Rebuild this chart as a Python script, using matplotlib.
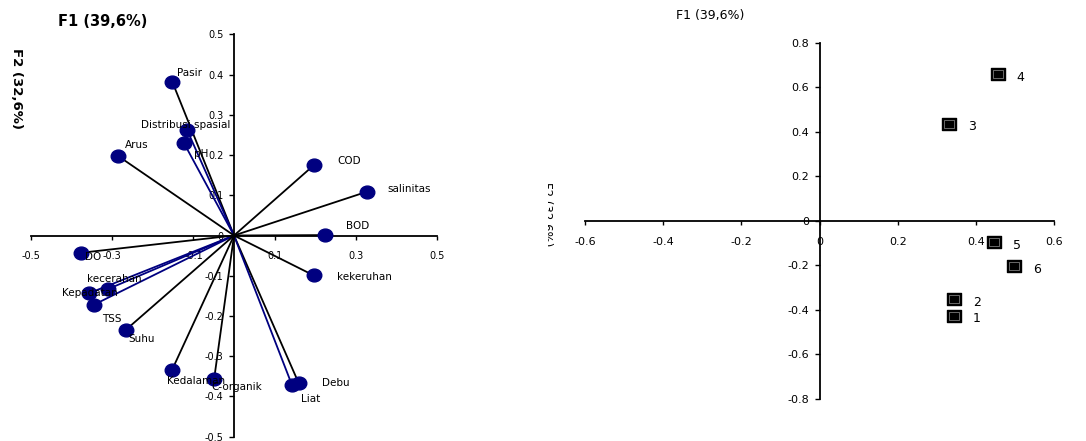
import matplotlib
matplotlib.use("Agg")
import matplotlib.pyplot as plt
from matplotlib.path import Path
from matplotlib.transforms import Affine2D, Bbox
from matplotlib.ticker import FixedLocator, FuncFormatter

# --- left panel: loadings of the variables on F1 / F2 ---
variables = [
    "Pasir", "Distribusi spasial", "pH", "Arus", "COD", "salinitas", "BOD",
    "DO", "kecerahan", "Kepadatan", "TSS", "Suhu", "Kedalaman",
    "C-organik", "Debu", "Liat", "kekeruhan",
]
load_f1 = [-0.152, -0.115, -0.124, -0.286, 0.198, 0.328, 0.223,
           -0.377, -0.310, -0.356, -0.345, -0.267, -0.153,
           -0.049, 0.159, 0.143, 0.196]
load_f2 = [0.382, 0.261, 0.231, 0.198, 0.176, 0.109, 0.001,
           -0.043, -0.133, -0.143, -0.172, -0.235, -0.335,
           -0.357, -0.366, -0.372, -0.099]

# --- right panel: station scores ---
stations = ["1", "2", "3", "4", "5", "6"]
score_f1 = [0.343, 0.343, 0.332, 0.455, 0.445, 0.498]
score_f2 = [-0.427, -0.352, 0.435, 0.658, -0.097, -0.203]

left_xticks = [-0.5, -0.3, -0.1, 0.1, 0.3, 0.5]
left_yticks = [-0.5, -0.4, -0.3, -0.2, -0.1, 0.0, 0.1, 0.2, 0.3, 0.4, 0.5]
right_xticks = [-0.6, -0.4, -0.2, 0.0, 0.2, 0.4, 0.6]
right_yticks = [-0.8, -0.6, -0.4, -0.2, 0.0, 0.2, 0.4, 0.6, 0.8]

# vectors drawn in navy instead of black
blue_vars = {"Distribusi spasial", "pH", "kecerahan", "Kepadatan", "TSS", "Liat"}

# label offsets from the marker, in pixels (dx right, dy up)
label_offsets = {
    "Pasir": (5, 9), "Distribusi spasial": (-46, 5), "pH": (10, -11),
    "Arus": (7, 11), "COD": (23, 4), "salinitas": (20, 3), "BOD": (21, 9),
    "DO": (4, -4), "kecerahan": (-21, 10), "Kepadatan": (-27, 0),
    "TSS": (8, -14), "Suhu": (3, -9), "Kedalaman": (-5, -11),
    "C-organik": (-3, -8), "Debu": (23, 0), "Liat": (9, -14),
    "kekeruhan": (23, -2),
}

NAVY = "#000080"


def tick_fmt(v, _):
    return "0" if abs(v) < 1e-9 else f"{v:.1f}"


def cross_axes(ax, xticks, yticks, size):
    for side in ("top", "right"):
        ax.spines[side].set_visible(False)
    for side in ("left", "bottom"):
        ax.spines[side].set_position(("data", 0))
        ax.spines[side].set_linewidth(1.3)
    ax.xaxis.set_major_locator(FixedLocator(xticks))
    ax.yaxis.set_major_locator(FixedLocator(yticks))
    ax.xaxis.set_major_formatter(FuncFormatter(tick_fmt))
    ax.yaxis.set_major_formatter(FuncFormatter(tick_fmt))
    ax.tick_params(axis="x", direction="out", length=3, width=1, pad=8.5, labelsize=size)
    ax.tick_params(axis="y", direction="out", length=3.5, width=1, pad=4, labelsize=size)
    ax.patch.set_visible(False)


fig = plt.figure(figsize=(10.86, 4.41), dpi=100)

# left: loadings circle
ax1 = fig.add_axes([31 / 1086, 1 - 436.7 / 441, 406 / 1086, 402.4 / 441])
ax1.set_xlim(-0.5, 0.5)
ax1.set_ylim(-0.5, 0.5)
cross_axes(ax1, left_xticks, left_yticks, 7)

ellipse = Path.unit_circle().transformed(Affine2D().scale(1.0, 0.88))
for name, x, y in zip(variables, load_f1, load_f2):
    col = NAVY if name in blue_vars else "black"
    ax1.plot([0, x], [0, y], color=col, lw=1.3, zorder=2, clip_on=False)
for name, x, y in zip(variables, load_f1, load_f2):
    ax1.plot(x, y, marker=ellipse, ms=10.5, color=NAVY, mec=NAVY, zorder=3, clip_on=False)
    dx, dy = label_offsets[name]
    ax1.annotate(name, (x, y), xytext=(dx, dy), textcoords="offset pixels",
                 ha="left", va="center", fontsize=7.5, zorder=4)

fig.text(102.5 / 1086, 1 - 21.7 / 441, "F1 (39,6%)", fontsize=10.5,
         fontweight="bold", ha="center", va="center")
fig.text(16.7 / 1086, 1 - 88.3 / 441, "F2 (32,6%)", fontsize=9.5,
         fontweight="bold", rotation=-90, ha="center", va="center")

# right: station scores
ax2 = fig.add_axes([585 / 1086, 1 - 399 / 441, 469.3 / 1086, 356.3 / 441])
ax2.set_xlim(-0.6, 0.6)
ax2.set_ylim(-0.8, 0.8)
cross_axes(ax2, right_xticks, right_yticks, 8)

rect = Path.unit_rectangle().transformed(Affine2D().translate(-0.5, -0.5).scale(1.0, 0.85))
ax2.plot(score_f1, score_f2, ls="none", marker=rect, ms=10, color="black",
         mec="black", zorder=3, clip_on=False)
ax2.plot(score_f1, score_f2, ls="none", marker=rect, ms=7.5, color="black",
         mec="#7a7a7a", mew=0.6, zorder=4, clip_on=False)
for name, x, y in zip(stations, score_f1, score_f2):
    ax2.annotate(name, (x, y), xytext=(19, -3), textcoords="offset pixels",
                 ha="left", va="center", fontsize=9)

fig.text(710 / 1086, 1 - 15 / 441, "F1 (39,6%)", fontsize=9, ha="center", va="center")
f2r = fig.text(547 / 1086, 1 - 214 / 441, "F2 (32,6%)", fontsize=8.5,
               rotation=-90, ha="center", va="center")
f2r.set_clip_on(True)
f2r.set_clip_box(Bbox([[547.5, 0], [1086, 441]]))

fig.savefig("out.png", dpi=100)
